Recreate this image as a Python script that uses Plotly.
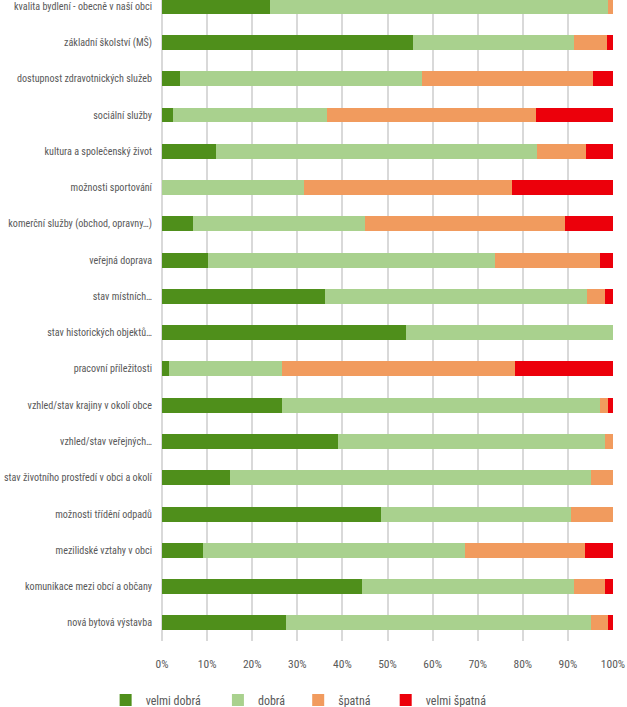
import plotly.graph_objects as go

categories = [
    "kvalita bydlení - obecně v naší obci",
    "základní školství (MŠ)",
    "dostupnost zdravotnických služeb",
    "sociální služby",
    "kultura a společenský život",
    "možnosti sportování",
    "komerční služby (obchod, opravny…)",
    "veřejná doprava",
    "stav místních…",
    "stav historických objektů…",
    "pracovní příležitosti",
    "vzhled/stav krajiny v okolí obce",
    "vzhled/stav veřejných…",
    "stav životního prostředí v obci a okolí",
    "možnosti třídění odpadů",
    "mezilidské vztahy v obci",
    "komunikace mezi obcí a občany",
    "nová bytová výstavba",
]

velmi_dobra = [23.9, 55.6, 4.1, 2.4, 11.9, 0.0, 6.8, 10.1, 36.1, 54.0, 1.5, 26.5, 39.0, 15.0, 48.6, 9.2, 44.3, 27.4]
dobra = [75.1, 35.8, 53.5, 34.1, 71.2, 31.4, 38.3, 63.7, 58.2, 46.0, 25.0, 70.6, 59.2, 80.1, 42.0, 57.9, 47.1, 67.8]
spatna = [1.0, 7.3, 38.0, 46.4, 10.9, 46.1, 44.2, 23.3, 3.9, 0.0, 51.7, 1.9, 1.8, 4.9, 9.4, 26.7, 6.8, 3.7]
velmi_spatna = [0.0, 1.3, 4.4, 17.1, 6.0, 22.5, 10.7, 2.9, 1.8, 0.0, 21.8, 1.0, 0.0, 0.0, 0.0, 6.2, 1.8, 1.1]

series = [
    ("velmi dobrá", velmi_dobra, "#4F8F1B", "legend"),
    ("dobrá", dobra, "#A9D18E", "legend2"),
    ("špatná", spatna, "#F19B5E", "legend3"),
    ("velmi špatná", velmi_spatna, "#EC000B", "legend4"),
]
legend_x = [-0.125, 0.124, 0.302, 0.496]

FONT = "Liberation Sans Narrow, Arial Narrow, Roboto Condensed, Liberation Sans, sans-serif"
GRAY = "#595959"

fig = go.Figure()
for (name, vals, color, leg) in series:
    fig.add_trace(go.Bar(
        y=categories, x=vals, name=name, orientation="h",
        marker=dict(color=color, line=dict(width=0)),
        legend=leg,
    ))

legend_common = dict(
    orientation="h", y=-0.092, yanchor="middle", xanchor="left",
    font=dict(family=FONT, size=12, color=GRAY),
    bgcolor="rgba(0,0,0,0)", itemwidth=30, traceorder="normal",
)
fig.update_layout(
    barmode="stack",
    bargap=0.587,
    width=627, height=707,
    margin=dict(l=162, r=14, t=0, b=66, autoexpand=False),
    paper_bgcolor="white", plot_bgcolor="white",
    font=dict(family=FONT, size=12, color=GRAY),
    showlegend=True,
    legend=dict(x=legend_x[0], **legend_common),
    legend2=dict(x=legend_x[1], **legend_common),
    legend3=dict(x=legend_x[2], **legend_common),
    legend4=dict(x=legend_x[3], **legend_common),
    xaxis=dict(
        range=[0, 100], dtick=10, ticksuffix="%",
        showgrid=True, gridcolor="#D9D9D9", gridwidth=1.5,
        zeroline=True, zerolinecolor="#D9D9D9", zerolinewidth=1.5,
        showline=False, ticks="", ticklabelstandoff=14, automargin=False,
        tickfont=dict(family=FONT, size=11.5, color=GRAY),
    ),
    yaxis=dict(
        categoryorder="array", categoryarray=categories,
        range=[17.5, -0.17],
        showgrid=False, zeroline=False, showline=False, ticks="",
        ticklabelstandoff=9, automargin=False,
        tickfont=dict(family=FONT, size=10.1, color=GRAY),
    ),
)

fig.write_html(
    "out.html",
    config={"displayModeBar": False},
    post_script="document.body.style.margin='0px';document.body.style.overflow='hidden';",
)
